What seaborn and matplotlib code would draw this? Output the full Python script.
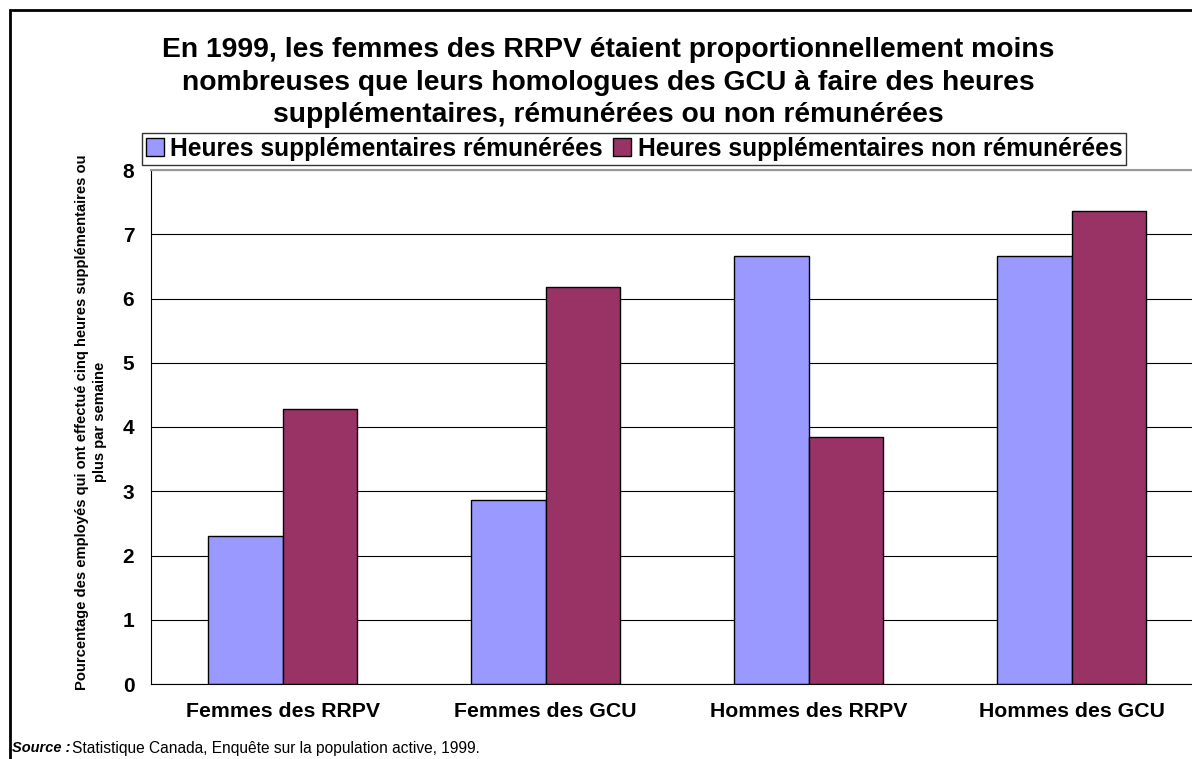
import matplotlib
matplotlib.use("Agg")
import matplotlib.pyplot as plt
import seaborn as sns
import pandas as pd
from matplotlib.patches import Rectangle, Patch

categories = ["Femmes des RRPV", "Femmes des GCU", "Hommes des RRPV", "Hommes des GCU"]
series_names = ["Heures supplémentaires rémunérées", "Heures supplémentaires non rémunérées"]
paid = [2.30, 2.86, 6.66, 6.66]
unpaid = [4.28, 6.18, 3.84, 7.36]
colors = ["#9999FF", "#993366"]
yticks = [0, 1, 2, 3, 4, 5, 6, 7, 8]

df = pd.DataFrame({
    "cat": categories * 2,
    "serie": [series_names[0]] * 4 + [series_names[1]] * 4,
    "val": paid + unpaid,
})

sns.set_style("white")
plt.rcParams['font.family'] = ['Liberation Sans', 'DejaVu Sans']
plt.rcParams['text.color'] = 'black'
plt.rcParams['axes.labelcolor'] = 'black'
plt.rcParams['xtick.color'] = 'black'
plt.rcParams['ytick.color'] = 'black'

fig = plt.figure(figsize=(11.92, 7.59), dpi=100)
ax = fig.add_axes([151/1192, 1-684/759, (1203-151)/1192, (684-170)/759])

sns.barplot(data=df, x="cat", y="val", hue="serie", order=categories,
            hue_order=series_names, palette=colors, width=0.57,
            edgecolor="black", linewidth=1.0, ax=ax, legend=False, saturation=1)

ax.set_xlim(-0.5, 3.5)
ax.set_ylim(0, 8)
ax.set_yticks(yticks)
ax.set_yticklabels([str(t) for t in yticks], fontsize=15, fontweight="bold")
ax.set_xticks(range(4))
ax.set_xticklabels(categories, fontsize=15.3, fontweight="bold")
ax.set_xticks([0.5, 1.5, 2.5], minor=True)
ax.tick_params(axis="x", which="major", length=0, pad=13)
ax.tick_params(axis="x", which="minor", length=7, width=1, color="black", direction="out")
ax.tick_params(axis="y", length=6, width=1, color="black", direction="out", pad=6)
ax.set_xlabel("")
ax.set_ylabel("")
ax.yaxis.grid(True, color="black", linewidth=0.8)
ax.set_axisbelow(True)
ax.spines["right"].set_visible(False)
ax.spines["top"].set_color("#999999")
ax.spines["top"].set_linewidth(1.5)
ax.spines["left"].set_color("black")
ax.spines["bottom"].set_color("black")

fig.text(608/1192, 1-82.5/759,
         "En 1999, les femmes des RRPV étaient proportionnellement moins\n"
         "nombreuses que leurs homologues des GCU à faire des heures\n"
         "supplémentaires, rémunérées ou non rémunérées",
         ha="center", va="center", fontsize=20.3, fontweight="bold", linespacing=1.32)

handles = [Patch(facecolor=c, edgecolor="black", linewidth=1) for c in colors]
leg = fig.legend(handles, series_names, ncol=2, loc="center",
                 bbox_to_anchor=(634/1192, 1-149/759), frameon=True, fancybox=False,
                 edgecolor="black", handlelength=0.75, handleheight=0.75, handletextpad=0.25,
                 columnspacing=0.4, borderpad=0.15, borderaxespad=0,
                 prop={"size": 17.7, "weight": "bold"})
leg.get_frame().set_linewidth(1)

fig.text(91/1192, 1-422/759,
         "Pourcentage des employés qui ont effectué cinq heures supplémentaires ou\nplus par semaine",
         rotation=90, ha="center", va="center", fontsize=10.6, fontweight="bold",
         multialignment="center", linespacing=1.3)

fig.text(12/1192, 1-748/759, "Source :", fontsize=10.5, fontweight="bold",
         fontstyle="italic", ha="left", va="center")
fig.text(72/1192, 1-748/759, "Statistique Canada, Enquête sur la population active, 1999.",
         fontsize=11.2, ha="left", va="center")

fig.patches.append(Rectangle((10/1192, -0.1), 1.2, 1.1 - 10/759, transform=fig.transFigure,
                             fill=False, edgecolor="black", linewidth=2))

fig.savefig("out.png", dpi=100)
